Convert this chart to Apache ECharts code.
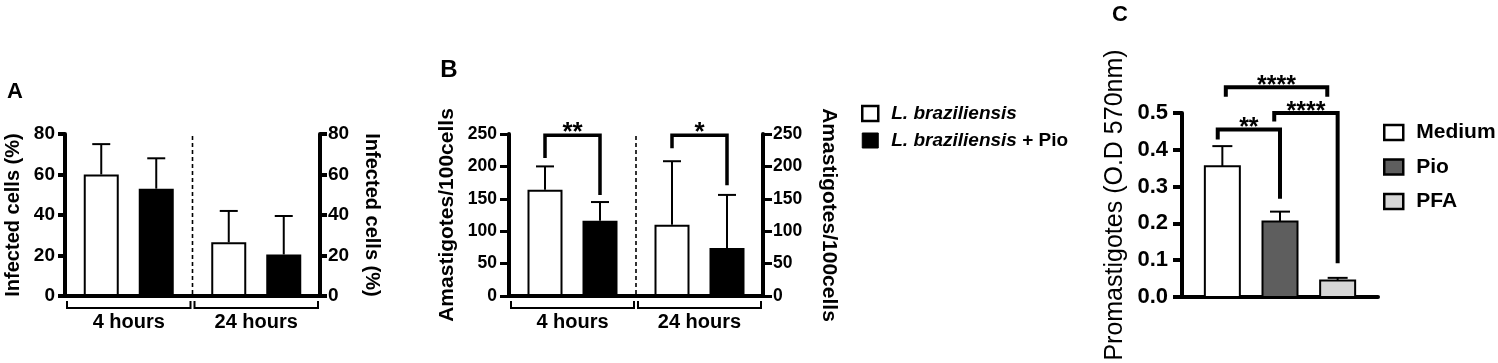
<!DOCTYPE html>
<html><head><meta charset="utf-8">
<script src="https://cdn.jsdelivr.net/npm/echarts@6/dist/echarts.min.js"></script>
<style>html,body{margin:0;padding:0;background:#fff}#c{width:1498px;height:363px}</style>
</head><body><div id="c"></div>
<script>
// ---------- data ----------
const groupsAB = ['4 hours', '24 hours'];
// Panel A: infected cells (%)
const aMedium = [60, 26.5];
const aMediumSD = [15, 15.5];
const aPio = [53, 20.5];
const aPioSD = [15, 19];
const aAxis = [0, 80, 20];
// Panel B: amastigotes / 100 cells
const bMedium = [164, 110];
const bMediumSD = [36, 98];
const bPio = [116, 74];
const bPioSD = [29, 82];
const bAxis = [0, 250, 50];
// significance: [group, bracket top, left leg end, right leg end]
const bSig = [[0, 248, 213, 156], [1, 248, 228, 171]];
const bSigText = ['**', '*'];
// Panel C: promastigotes (O.D 570nm)
const cGroups = ['Medium', 'Pio', 'PFA'];
const cMeans = [0.355, 0.205, 0.045];
const cSD = [0.055, 0.027, 0.007];
const cAxis = [0, 0.5, 0.1];
// significance: [left x, right x, top, left leg end, right leg end]
const cSig = [[-0.08, 1, 0.455, 0.428, 0.267], [0.9, 2, 0.5, 0.477, 0.092], [0.06, 1.82, 0.57, 0.544, 0.544]];
const cSigText = ['**', '****', '****'];
const legendB = ['L. braziliensis', 'L. braziliensis + Pio'];

// ---------- style ----------
const FF = 'Liberation Sans, Arial, Helvetica, sans-serif';
const BAR_W = 35, BAR_GAP = 20, OFF = (BAR_W + BAR_GAP) / 2;
const cFill = ['#ffffff', '#5e5e5e', '#d6d6d6'];

function errItem(offset) {
  return function (params, api) {
    const c = api.value(0), m = api.value(1), sd = api.value(2);
    const p0 = api.coord([c, m]), p1 = api.coord([c, m + sd]);
    const x = p0[0] + offset;
    return { type: 'group', children: [
      { type: 'line', shape: { x1: x, y1: p0[1], x2: x, y2: p1[1] }, style: { stroke: '#000', lineWidth: 2 } },
      { type: 'line', shape: { x1: x - 9, y1: p1[1], x2: x + 9, y2: p1[1] }, style: { stroke: '#000', lineWidth: 2 } }
    ] };
  };
}
function dividerItem(params, api) {
  const cs = params.coordSys;
  const x = api.coord([api.value(0), 0])[0] + api.size([1, 0])[0] / 2;
  return { type: 'line', shape: { x1: x, y1: cs.y + 2, x2: x, y2: cs.y + cs.height - 2 },
    style: { stroke: '#000', lineWidth: 1.6, lineDash: [4, 3] } };
}
function groupBracketItem(params, api) {
  const p = api.coord([api.value(0), 0]);
  const half = api.size([1, 0])[0] / 2;
  const l = p[0] - half + 2, r = p[0] + half - 2, y1 = p[1] + 5, y2 = p[1] + 12;
  return { type: 'polyline', shape: { points: [[l, y1], [l, y2], [r, y2], [r, y1]] },
    style: { stroke: '#000', lineWidth: 2, fill: null } };
}
function sigItemB(params, api) {
  const s = bSig[params.dataIndex];
  const t = api.coord([s[0], s[1]]), l = api.coord([s[0], s[2]]), r = api.coord([s[0], s[3]]);
  const xl = t[0] - OFF, xr = t[0] + OFF;
  return { type: 'group', children: [
    { type: 'polyline', shape: { points: [[xl, l[1]], [xl, t[1]], [xr, t[1]], [xr, r[1]]] },
      style: { stroke: '#000', lineWidth: 3.5, fill: null } },
    { type: 'text', style: { text: bSigText[params.dataIndex], x: (xl + xr) / 2, y: t[1] - 2,
      textAlign: 'center', textVerticalAlign: 'middle', align: 'center', verticalAlign: 'middle',
      font: 'bold 26px ' + FF, fill: '#000' } }
  ] };
}
function cBarItem(params, api) {
  const i = api.value(0), m = api.value(1), sd = api.value(2);
  const b = api.coord([i, 0]), t = api.coord([i, m]), u = api.coord([i, m + sd]);
  return { type: 'group', children: [
    { type: 'rect', shape: { x: b[0] - BAR_W / 2, y: t[1], width: BAR_W, height: b[1] - t[1] },
      style: { fill: cFill[i], stroke: '#000', lineWidth: 2 } },
    { type: 'line', shape: { x1: b[0], y1: t[1], x2: b[0], y2: u[1] }, style: { stroke: '#000', lineWidth: 2 } },
    { type: 'line', shape: { x1: b[0] - 10, y1: u[1], x2: b[0] + 10, y2: u[1] }, style: { stroke: '#000', lineWidth: 2 } }
  ] };
}
function sigItemC(params, api) {
  const s = cSig[params.dataIndex];
  const tl = api.coord([s[0], s[2]]), tr = api.coord([s[1], s[2]]);
  const l = api.coord([s[0], s[3]]), r = api.coord([s[1], s[4]]);
  return { type: 'group', children: [
    { type: 'polyline', shape: { points: [[tl[0], l[1]], [tl[0], tl[1]], [tr[0], tr[1]], [tr[0], r[1]]] },
      style: { stroke: '#000', lineWidth: 4, fill: null } },
    { type: 'text', style: { text: cSigText[params.dataIndex], x: (tl[0] + tr[0]) / 2, y: tl[1] - 1,
      textAlign: 'center', textVerticalAlign: 'middle', align: 'center', verticalAlign: 'middle',
      font: 'bold 25px ' + FF, fill: '#000' } }
  ] };
}

function yAx(grid, ax, pos, name, o) {
  return {
    gridIndex: grid, type: 'value', position: pos, min: ax[0], max: ax[1], interval: ax[2],
    axisLine: { show: true, onZero: false, lineStyle: { color: '#000', width: o.lw } },
    axisTick: { show: true, length: o.tl, lineStyle: { color: '#000', width: o.tw } },
    axisLabel: { color: '#000', fontSize: o.fs, fontWeight: 'bold', fontFamily: FF, margin: o.m,
      formatter: o.fmt || (v => String(v)) },
    splitLine: { show: false },
    name: name, nameLocation: 'middle', nameGap: o.ng, nameRotate: pos === 'left' ? 90 : -90,
    nameTextStyle: { color: '#000', fontSize: o.nfs, fontWeight: o.nfw || 'bold', fontFamily: FF, lineHeight: o.nfs }
  };
}
function xCat(grid) {
  return {
    gridIndex: grid, type: 'category', data: groupsAB,
    axisLine: { show: true, onZero: false, lineStyle: { color: '#000', width: 4 } },
    axisTick: { show: false },
    axisLabel: { color: '#000', fontSize: 20, fontWeight: 'bold', fontFamily: FF, margin: 16 },
    splitLine: { show: false }
  };
}

const chart = echarts.init(document.getElementById('c'), null, { renderer: 'canvas' });
const idx = groupsAB.map((g, i) => i);
chart.setOption({
  animation: false,
  textStyle: { fontFamily: FF },
  graphic: [
    { type: 'text', x: 15, y: 92, style: { text: 'A', font: 'bold 22px ' + FF, fill: '#000', textAlign: 'center', textVerticalAlign: 'middle', align: 'center', verticalAlign: 'middle' } },
    { type: 'text', x: 449, y: 70, style: { text: 'B', font: 'bold 24px ' + FF, fill: '#000', textAlign: 'center', textVerticalAlign: 'middle', align: 'center', verticalAlign: 'middle' } },
    { type: 'text', x: 1120, y: 15, style: { text: 'C', font: 'bold 22px ' + FF, fill: '#000', textAlign: 'center', textVerticalAlign: 'middle', align: 'center', verticalAlign: 'middle' } }
  ],
  legend: [
    {
      orient: 'vertical', left: 856, top: 99, itemWidth: 16, itemHeight: 15, itemGap: 8,
      selectedMode: false,
      data: [
        { name: legendB[0], icon: 'rect', itemStyle: { color: '#fff', borderColor: '#000', borderWidth: 2.5 } },
        { name: legendB[1], icon: 'rect', itemStyle: { color: '#000', borderColor: '#000', borderWidth: 1 } }
      ],
      formatter: n => n === legendB[0] ? '{i|L. braziliensis}' : '{i|L. braziliensis} {n|+ Pio}',
      textStyle: { color: '#000', fontSize: 19, fontWeight: 'bold', fontFamily: FF, lineHeight: 19, padding: [0, 0, 0, 8],
        rich: { i: { fontStyle: 'italic', fontWeight: 'bold', fontSize: 19, fontFamily: FF, color: '#000', lineHeight: 19 },
                n: { fontWeight: 'bold', fontSize: 19, fontFamily: FF, color: '#000', lineHeight: 19 } } }
    },
    {
      orient: 'vertical', left: 1378, top: 117, itemWidth: 19, itemHeight: 15, itemGap: 13.5,
      selectedMode: false,
      data: cGroups.map((g, i) => ({ name: g, icon: 'rect', itemStyle: { color: cFill[i], borderColor: '#000', borderWidth: 2.5 } })),
      textStyle: { color: '#000', fontSize: 21, fontWeight: 'bold', fontFamily: FF, lineHeight: 21, padding: [0, 0, 0, 8] }
    }
  ],
  grid: [
    { left: 65, top: 134, width: 255, height: 162, containLabel: false },
    { left: 509, top: 134, width: 254, height: 162, containLabel: false },
    { left: 1182, top: 113, width: 196, height: 184, containLabel: false }
  ],
  xAxis: [
    xCat(0), xCat(1),
    { gridIndex: 2, type: 'value', min: -0.7, max: 2.7,
      axisLine: { show: true, onZero: false, lineStyle: { color: '#000', width: 4 } },
      axisTick: { show: false }, axisLabel: { show: false }, splitLine: { show: false } }
  ],
  yAxis: [
    yAx(0, aAxis, 'left', 'Infected cells (%)', { lw: 4, tl: 7, tw: 4, fs: 19, m: 10, ng: 42, nfs: 20 }),
    yAx(0, aAxis, 'right', 'Infected cells (%)', { lw: 4, tl: 7, tw: 4, fs: 19, m: 8, ng: 42, nfs: 20 }),
    yAx(1, bAxis, 'left', 'Amastigotes/100cells', { lw: 4, tl: 9, tw: 3, fs: 17.5, m: 12, ng: 51, nfs: 21 }),
    yAx(1, bAxis, 'right', 'Amastigotes/100cells', { lw: 4, tl: 9, tw: 3, fs: 17.5, m: 10, ng: 55, nfs: 21 }),
    yAx(2, cAxis, 'left', 'Promastigotes (O.D 570nm)', { lw: 4, tl: 9, tw: 4, fs: 22, m: 14, ng: 54, nfs: 25, nfw: 'normal', fmt: v => v.toFixed(1) })
  ],
  series: [
    // Panel A
    { name: 'A Medium', type: 'bar', xAxisIndex: 0, yAxisIndex: 0, data: aMedium, barWidth: BAR_W, barGap: (BAR_GAP / BAR_W * 100) + '%',
      itemStyle: { color: '#fff', borderColor: '#000', borderWidth: 2 } },
    { name: 'A Pio', type: 'bar', xAxisIndex: 0, yAxisIndex: 0, data: aPio, barWidth: BAR_W,
      itemStyle: { color: '#000', borderColor: '#000', borderWidth: 2 } },
    { type: 'custom', xAxisIndex: 0, yAxisIndex: 0, clip: false, z: 3, renderItem: errItem(-OFF),
      data: idx.map(i => [i, aMedium[i], aMediumSD[i]]), encode: { x: 0, y: 1 } },
    { type: 'custom', xAxisIndex: 0, yAxisIndex: 0, clip: false, z: 3, renderItem: errItem(OFF),
      data: idx.map(i => [i, aPio[i], aPioSD[i]]), encode: { x: 0, y: 1 } },
    { type: 'custom', xAxisIndex: 0, yAxisIndex: 0, clip: false, renderItem: dividerItem, data: [[0, 0]], encode: { x: 0, y: 1 } },
    { type: 'custom', xAxisIndex: 0, yAxisIndex: 0, clip: false, renderItem: groupBracketItem, data: idx.map(i => [i, 0]), encode: { x: 0, y: 1 } },
    // Panel B
    { name: legendB[0], type: 'bar', xAxisIndex: 1, yAxisIndex: 2, data: bMedium, barWidth: BAR_W, barGap: (BAR_GAP / BAR_W * 100) + '%',
      itemStyle: { color: '#fff', borderColor: '#000', borderWidth: 2 } },
    { name: legendB[1], type: 'bar', xAxisIndex: 1, yAxisIndex: 2, data: bPio, barWidth: BAR_W,
      itemStyle: { color: '#000', borderColor: '#000', borderWidth: 2 } },
    { type: 'custom', xAxisIndex: 1, yAxisIndex: 2, clip: false, z: 3, renderItem: errItem(-OFF),
      data: idx.map(i => [i, bMedium[i], bMediumSD[i]]), encode: { x: 0, y: 1 } },
    { type: 'custom', xAxisIndex: 1, yAxisIndex: 2, clip: false, z: 3, renderItem: errItem(OFF),
      data: idx.map(i => [i, bPio[i], bPioSD[i]]), encode: { x: 0, y: 1 } },
    { type: 'custom', xAxisIndex: 1, yAxisIndex: 2, clip: false, renderItem: dividerItem, data: [[0, 0]], encode: { x: 0, y: 1 } },
    { type: 'custom', xAxisIndex: 1, yAxisIndex: 2, clip: false, renderItem: groupBracketItem, data: idx.map(i => [i, 0]), encode: { x: 0, y: 1 } },
    { type: 'custom', xAxisIndex: 1, yAxisIndex: 2, clip: false, z: 4, renderItem: sigItemB, data: bSig, encode: { x: 0, y: 1 } },
    // Panel C
    ...cGroups.map((g, i) => ({ name: g, type: 'custom', xAxisIndex: 2, yAxisIndex: 4, clip: false,
      renderItem: cBarItem, data: [[i, cMeans[i], cSD[i]]], encode: { x: 0, y: 1 } })),
    { type: 'custom', xAxisIndex: 2, yAxisIndex: 4, clip: false, z: 4, renderItem: sigItemC, data: cSig, encode: { x: 0, y: 2 } }
  ]
});
</script>
</body></html>
